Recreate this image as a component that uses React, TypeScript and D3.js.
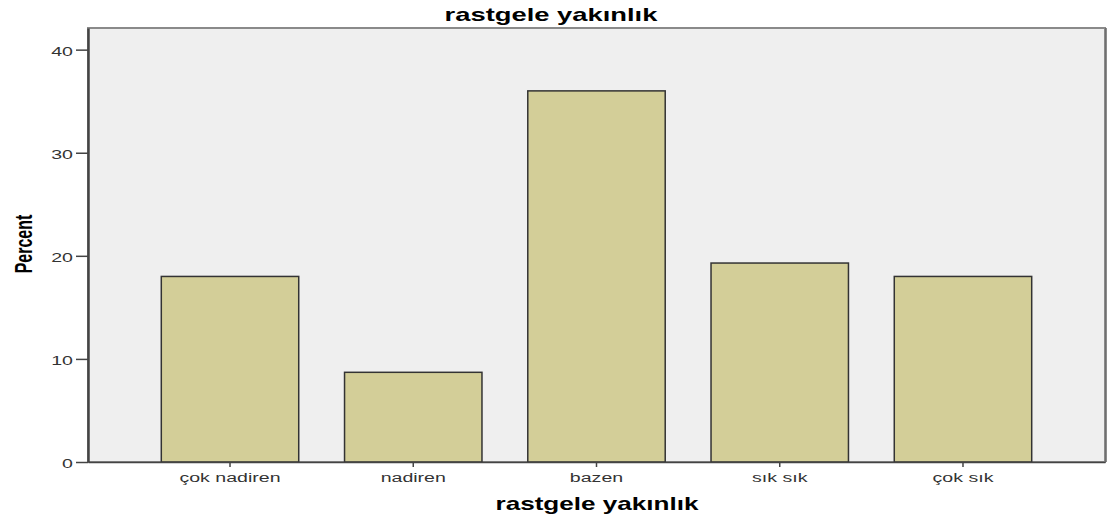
import React, { useEffect, useRef } from 'react';
import * as d3 from 'd3';

const categories = ['çok nadiren', 'nadiren', 'bazen', 'sık sık', 'çok sık'];
const percents = [18.0, 8.7, 36.0, 19.3, 18.0];
const yTicks = [0, 10, 20, 30, 40];
const chartTitle = 'rastgele yakınlık';
const xTitle = 'rastgele yakınlık';
const yTitle = 'Percent';

const App = () => {
  const svgRef = useRef<SVGSVGElement>(null);

  useEffect(() => {
    const width = 1109;
    const height = 516;
    const plot = { left: 88, right: 1105, top: 28, bottom: 462 };
    const sx = 1.45; // the picture is stretched sideways

    const svg = d3.select(svgRef.current);
    svg.selectAll('*').remove();
    svg.attr('width', width).attr('height', height);

    const x = d3.scaleBand()
      .domain(categories)
      .range([plot.left, plot.right])
      .paddingInner(0.25)
      .paddingOuter(0.4);

    const y = d3.scaleLinear()
      .domain([0, 42.1])
      .range([plot.bottom, plot.top]);

    // plot background
    svg.append('rect')
      .attr('x', plot.left)
      .attr('y', plot.top)
      .attr('width', plot.right - plot.left)
      .attr('height', plot.bottom - plot.top)
      .style('fill', '#efefef')
      .style('stroke', '#8a8a8a')
      .style('stroke-width', 2);

    // darker edge on the right side of the frame
    svg.append('line')
      .attr('x1', plot.right + 1)
      .attr('x2', plot.right + 1)
      .attr('y1', plot.top)
      .attr('y2', plot.bottom)
      .style('stroke', '#666')
      .style('stroke-width', 1.5);

    svg.selectAll('rect.bar')
      .data(percents)
      .enter()
      .append('rect')
      .attr('class', 'bar')
      .attr('x', (d, i) => x(categories[i]) as number)
      .attr('y', d => y(d))
      .attr('width', x.bandwidth())
      .attr('height', d => y(0) - y(d))
      .style('fill', '#d3ce98')
      .style('stroke', '#333')
      .style('stroke-width', 1.5);

    const font = 'Arial, "Liberation Sans", sans-serif';

    const yAxis = d3.axisLeft(y).tickValues(yTicks).tickSize(12).tickSizeOuter(0);
    const gy = svg.append('g')
      .attr('transform', `translate(${plot.left},0)`)
      .call(yAxis);
    gy.select('.domain').attr('stroke', '#444').attr('stroke-width', 2.5);
    gy.selectAll('.tick line').attr('stroke', '#444').attr('stroke-width', 1.5);
    gy.selectAll('.tick text')
      .attr('x', 0)
      .attr('dy', '0.4em')
      .attr('transform', `translate(-15,0) scale(${sx},1)`)
      .style('font-family', font)
      .style('font-size', '13.5px')
      .style('fill', '#333');

    const xAxis = d3.axisBottom(x).tickSize(5).tickSizeOuter(0).tickPadding(5);
    const gx = svg.append('g')
      .attr('transform', `translate(0,${plot.bottom})`)
      .call(xAxis);
    gx.select('.domain').attr('stroke', '#444').attr('stroke-width', 1.5);
    gx.selectAll('.tick line').attr('stroke', '#444').attr('stroke-width', 1.5);
    gx.selectAll('.tick text')
      .attr('transform', `scale(${sx},1)`)
      .style('font-family', font)
      .style('font-size', '13.5px')
      .style('fill', '#333');

    svg.append('text')
      .attr('transform', `translate(551,21) scale(1.52,1)`)
      .style('text-anchor', 'middle')
      .style('font-family', font)
      .style('font-weight', 'bold')
      .style('font-size', '18px')
      .text(chartTitle);

    svg.append('text')
      .attr('transform', `translate(597,510) scale(${sx},1)`)
      .style('text-anchor', 'middle')
      .style('font-family', font)
      .style('font-weight', 'bold')
      .style('font-size', '18px')
      .text(xTitle);

    svg.append('text')
      .attr('transform', `translate(32,244) scale(${sx},1) rotate(-90)`)
      .style('text-anchor', 'middle')
      .style('font-family', font)
      .style('font-weight', 'bold')
      .style('font-size', '16px')
      .text(yTitle);
  }, []);

  return <svg ref={svgRef} style={{ position: 'absolute', left: 0, top: 0 }}></svg>;
};

export default App;
